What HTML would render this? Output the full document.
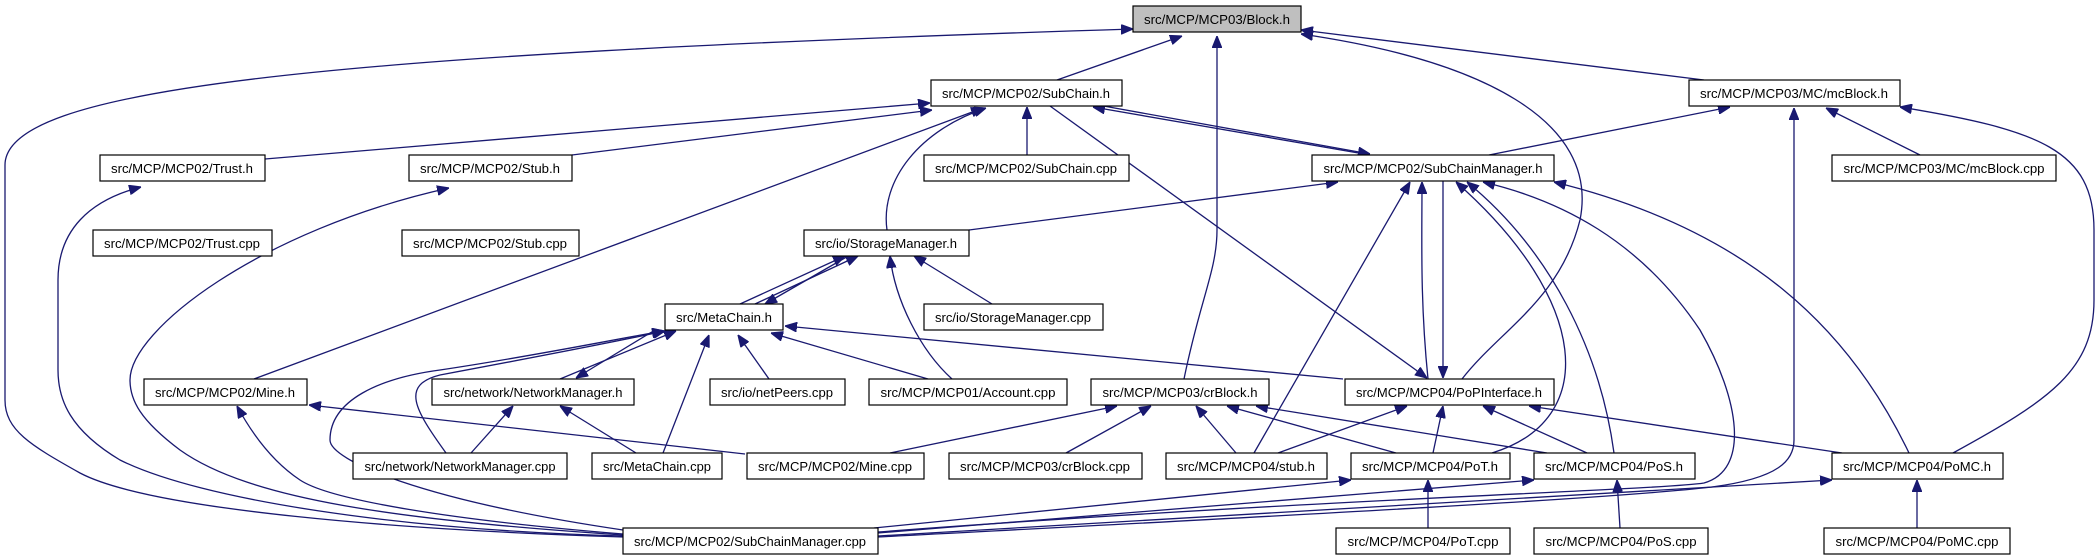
<!DOCTYPE html>
<html><head><meta charset="utf-8"><style>
html,body{margin:0;padding:0;background:#fff;}
svg{display:block;}
text{font-family:"Liberation Sans",Arial,sans-serif;font-size:13px;fill:#000;}
path{fill:none;stroke:#191970;stroke-width:1.3;}
rect{fill:#fff;stroke:#000;stroke-width:1.2;}
</style></head><body>
<svg width="2100" height="560" viewBox="0 0 2100 560" xmlns="http://www.w3.org/2000/svg">
<defs>
<marker id="a" viewBox="0 0 10 8" refX="10" refY="4" markerWidth="12" markerHeight="10" markerUnits="userSpaceOnUse" orient="auto">
<path d="M0,0 L10,4 L0,8 Z" style="fill:#191970;stroke:#191970;stroke-width:1"/>
</marker>
</defs>
<g marker-end="url(#a)">
<!-- to Block.h -->
<path d="M623,537 C400,530 150,510 80,473 C30,445 5,430 5,400 L5,165 C5,90 300,55 1133,29"/>
<path d="M1057,80 L1182,36"/>
<path d="M1704,80 L1301,30"/>
<path d="M1462,379 C1500,330 1560,300 1580,220 C1600,120 1480,60 1301,34"/>
<path d="M1184,379 C1200,300 1217,270 1217,230 L1217,36"/>
<!-- to SubChain.h -->
<path d="M265,159 L930,103"/>
<path d="M572,155 L932,110"/>
<path d="M1027,155 L1027,107"/>
<path d="M887,230 C880,180 920,130 986,108"/>
<path d="M254,379 L983,108"/>
<path d="M1370,155 L1093,107"/>
<!-- from SubChain.h -->
<path d="M1050,106 L1427,378"/>
<path d="M1098,105 L1370,154"/>
<!-- mcBlock.h -->
<path d="M1489,155 L1730,107"/>
<path d="M1920,155 L1826,108"/>
<path d="M878,537 C1200,520 1600,500 1712,487 C1780,478 1794,460 1794,440 L1794,108"/>
<path d="M1953,453 C2050,400 2094,370 2094,300 L2094,230 C2094,150 2040,130 1900,107"/>
<!-- SubChainManager.h -->
<path d="M969,230 L1338,182"/>
<path d="M1428,379 C1420,300 1422,240 1422,182"/>
<path d="M1443,181 C1443,260 1443,320 1443,378"/>
<path d="M1254,453 L1410,182"/>
<path d="M1492,453 C1600,420 1590,300 1456,182"/>
<path d="M1614,453 C1600,350 1550,250 1467,182"/>
<path d="M878,532 C1300,500 1660,490 1704,483 C1750,470 1740,400 1700,330 C1640,240 1560,200 1483,182"/>
<path d="M1909,453 C1850,330 1750,230 1554,182"/>
<!-- StorageManager.h -->
<path d="M740,304 L845,256"/>
<path d="M850,255 L765,304"/>
<path d="M755,304 L858,256"/>
<path d="M952,379 C920,350 895,300 890,256"/>
<path d="M992,304 L914,256"/>
<!-- MetaChain.h -->
<path d="M655,330 L576,378"/>
<path d="M560,379 L676,331"/>
<path d="M446,453 C415,410 400,385 440,375 C520,360 600,345 665,331"/>
<path d="M623,530 C420,500 330,460 330,440 C330,400 380,378 440,370 C540,355 610,340 664,331"/>
<path d="M663,453 L709,335"/>
<path d="M769,379 L738,335"/>
<path d="M928,379 L771,333"/>
<path d="M1343,379 L785,326"/>
<!-- NetworkManager.h -->
<path d="M471,453 L513,406"/>
<path d="M636,453 L560,406"/>
<!-- Mine.h -->
<path d="M745,454 L309,405"/>
<path d="M623,534 C450,520 330,500 300,480 C270,460 250,430 237,406"/>
<!-- Stub/Trust from SubChainManager.cpp -->
<path d="M623,535 C400,520 250,500 180,450 C140,420 130,400 130,380 C130,330 260,230 449,188"/>
<path d="M623,536 C400,530 200,500 120,460 C70,430 58,400 58,370 L58,280 C58,230 90,200 141,187"/>
<!-- crBlock.h -->
<path d="M890,453 L1117,406"/>
<path d="M1066,453 L1151,406"/>
<path d="M1236,453 L1196,406"/>
<path d="M1396,453 L1227,406"/>
<path d="M1547,453 L1256,406"/>
<!-- PoPInterface.h -->
<path d="M1278,453 L1407,406"/>
<path d="M1433,453 L1443,406"/>
<path d="M1587,453 L1483,406"/>
<path d="M1842,453 L1529,406"/>
<!-- bottom -->
<path d="M1428,528 L1428,480"/>
<path d="M1620,528 L1617,480"/>
<path d="M1917,528 L1917,480"/>
<path d="M874,528 L1351,480"/>
<path d="M878,533 L1534,480"/>
<path d="M878,536 L1832,480"/>
</g>
<g>
<rect x="1133" y="6" width="168" height="26" style="fill:#bfbfbf"/><text x="1217" y="24" text-anchor="middle" textLength="146" lengthAdjust="spacingAndGlyphs">src/MCP/MCP03/Block.h</text>
<rect x="931" y="80" width="191" height="26"/><text x="1026" y="98" text-anchor="middle" textLength="168" lengthAdjust="spacingAndGlyphs">src/MCP/MCP02/SubChain.h</text>
<rect x="1689" y="80" width="211" height="26"/><text x="1794" y="98" text-anchor="middle" textLength="188" lengthAdjust="spacingAndGlyphs">src/MCP/MCP03/MC/mcBlock.h</text>
<rect x="100" y="155" width="165" height="26"/><text x="182" y="173" text-anchor="middle" textLength="142" lengthAdjust="spacingAndGlyphs">src/MCP/MCP02/Trust.h</text>
<rect x="409" y="155" width="163" height="26"/><text x="490" y="173" text-anchor="middle" textLength="140" lengthAdjust="spacingAndGlyphs">src/MCP/MCP02/Stub.h</text>
<rect x="924" y="155" width="205" height="26"/><text x="1026" y="173" text-anchor="middle" textLength="182" lengthAdjust="spacingAndGlyphs">src/MCP/MCP02/SubChain.cpp</text>
<rect x="1312" y="155" width="242" height="26"/><text x="1433" y="173" text-anchor="middle" textLength="219" lengthAdjust="spacingAndGlyphs">src/MCP/MCP02/SubChainManager.h</text>
<rect x="1832" y="155" width="224" height="26"/><text x="1944" y="173" text-anchor="middle" textLength="201" lengthAdjust="spacingAndGlyphs">src/MCP/MCP03/MC/mcBlock.cpp</text>
<rect x="93" y="230" width="179" height="26"/><text x="182" y="248" text-anchor="middle" textLength="156" lengthAdjust="spacingAndGlyphs">src/MCP/MCP02/Trust.cpp</text>
<rect x="402" y="230" width="177" height="26"/><text x="490" y="248" text-anchor="middle" textLength="154" lengthAdjust="spacingAndGlyphs">src/MCP/MCP02/Stub.cpp</text>
<rect x="804" y="230" width="165" height="26"/><text x="886" y="248" text-anchor="middle" textLength="142" lengthAdjust="spacingAndGlyphs">src/io/StorageManager.h</text>
<rect x="665" y="304" width="118" height="26"/><text x="724" y="322" text-anchor="middle" textLength="96" lengthAdjust="spacingAndGlyphs">src/MetaChain.h</text>
<rect x="924" y="304" width="179" height="26"/><text x="1013" y="322" text-anchor="middle" textLength="156" lengthAdjust="spacingAndGlyphs">src/io/StorageManager.cpp</text>
<rect x="144" y="379" width="163" height="26"/><text x="225" y="397" text-anchor="middle" textLength="140" lengthAdjust="spacingAndGlyphs">src/MCP/MCP02/Mine.h</text>
<rect x="432" y="379" width="202" height="26"/><text x="533" y="397" text-anchor="middle" textLength="179" lengthAdjust="spacingAndGlyphs">src/network/NetworkManager.h</text>
<rect x="710" y="379" width="135" height="26"/><text x="777" y="397" text-anchor="middle" textLength="112" lengthAdjust="spacingAndGlyphs">src/io/netPeers.cpp</text>
<rect x="869" y="379" width="198" height="26"/><text x="968" y="397" text-anchor="middle" textLength="175" lengthAdjust="spacingAndGlyphs">src/MCP/MCP01/Account.cpp</text>
<rect x="1091" y="379" width="178" height="26"/><text x="1180" y="397" text-anchor="middle" textLength="155" lengthAdjust="spacingAndGlyphs">src/MCP/MCP03/crBlock.h</text>
<rect x="1345" y="379" width="209" height="26"/><text x="1449" y="397" text-anchor="middle" textLength="186" lengthAdjust="spacingAndGlyphs">src/MCP/MCP04/PoPInterface.h</text>
<rect x="353" y="453" width="214" height="26"/><text x="460" y="471" text-anchor="middle" textLength="191" lengthAdjust="spacingAndGlyphs">src/network/NetworkManager.cpp</text>
<rect x="592" y="453" width="130" height="26"/><text x="657" y="471" text-anchor="middle" textLength="108" lengthAdjust="spacingAndGlyphs">src/MetaChain.cpp</text>
<rect x="747" y="453" width="177" height="26"/><text x="835" y="471" text-anchor="middle" textLength="154" lengthAdjust="spacingAndGlyphs">src/MCP/MCP02/Mine.cpp</text>
<rect x="949" y="453" width="193" height="26"/><text x="1045" y="471" text-anchor="middle" textLength="170" lengthAdjust="spacingAndGlyphs">src/MCP/MCP03/crBlock.cpp</text>
<rect x="1166" y="453" width="161" height="26"/><text x="1246" y="471" text-anchor="middle" textLength="138" lengthAdjust="spacingAndGlyphs">src/MCP/MCP04/stub.h</text>
<rect x="1351" y="453" width="159" height="26"/><text x="1430" y="471" text-anchor="middle" textLength="136" lengthAdjust="spacingAndGlyphs">src/MCP/MCP04/PoT.h</text>
<rect x="1534" y="453" width="161" height="26"/><text x="1614" y="471" text-anchor="middle" textLength="138" lengthAdjust="spacingAndGlyphs">src/MCP/MCP04/PoS.h</text>
<rect x="1832" y="453" width="171" height="26"/><text x="1917" y="471" text-anchor="middle" textLength="148" lengthAdjust="spacingAndGlyphs">src/MCP/MCP04/PoMC.h</text>
<rect x="623" y="528" width="255" height="26"/><text x="750" y="546" text-anchor="middle" textLength="232" lengthAdjust="spacingAndGlyphs">src/MCP/MCP02/SubChainManager.cpp</text>
<rect x="1336" y="528" width="174" height="26"/><text x="1423" y="546" text-anchor="middle" textLength="151" lengthAdjust="spacingAndGlyphs">src/MCP/MCP04/PoT.cpp</text>
<rect x="1534" y="528" width="174" height="26"/><text x="1621" y="546" text-anchor="middle" textLength="151" lengthAdjust="spacingAndGlyphs">src/MCP/MCP04/PoS.cpp</text>
<rect x="1824" y="528" width="186" height="26"/><text x="1917" y="546" text-anchor="middle" textLength="163" lengthAdjust="spacingAndGlyphs">src/MCP/MCP04/PoMC.cpp</text>
</g>
</svg>
</body></html>
